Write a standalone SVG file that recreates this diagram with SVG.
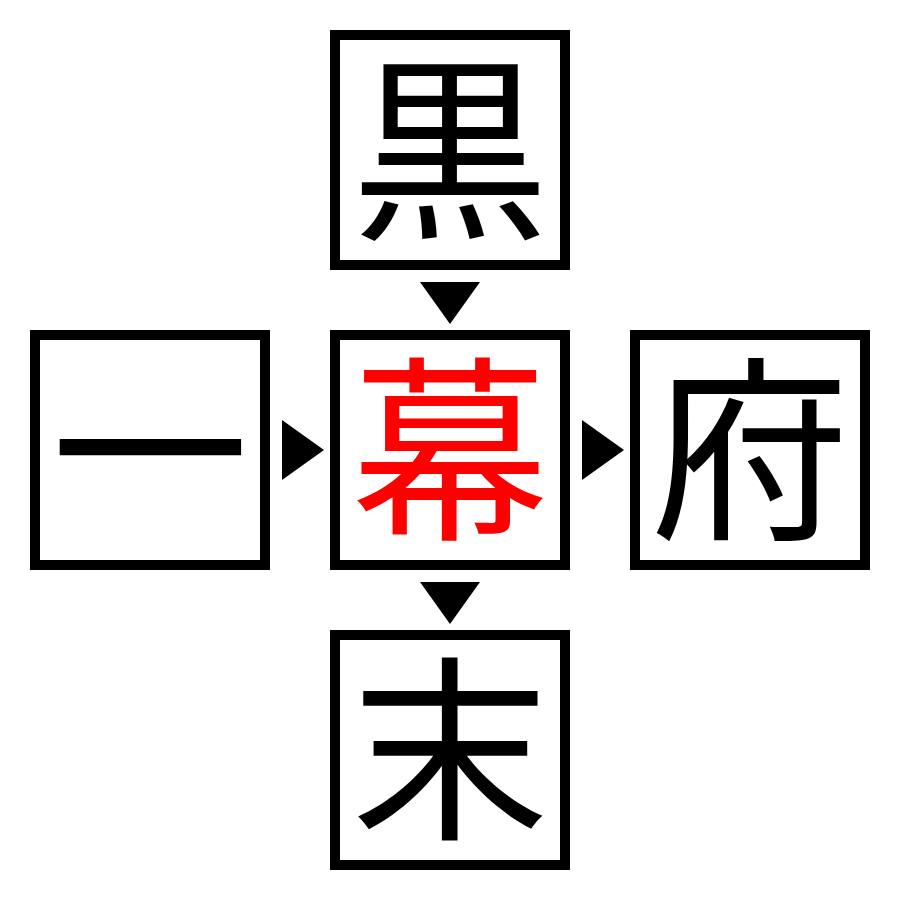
<svg xmlns="http://www.w3.org/2000/svg" width="900" height="900" viewBox="0 0 900 900">
<style>
.box{fill:#fff;stroke:#000;stroke-width:10}
.ch{font-family:"Noto Sans CJK JP","Noto Sans CJK SC",sans-serif;font-size:198px;text-anchor:middle;fill:#000}
.red{fill:#ff0000}
.arr{fill:#000}
</style>
<rect width="900" height="900" fill="#fff"/>
<g id="top"><rect class="box" x="335" y="35" width="230" height="230"/><text class="ch" x="450" y="224">黒</text></g>
<g id="left"><rect class="box" x="35" y="335" width="230" height="230"/><text class="ch" x="150" y="524">一</text></g>
<g id="center"><rect class="box" x="335" y="335" width="230" height="230"/><text class="ch red" x="450" y="524">幕</text></g>
<g id="right"><rect class="box" x="635" y="335" width="230" height="230"/><text class="ch" x="750" y="524">府</text></g>
<g id="bottom"><rect class="box" x="335" y="635" width="230" height="230"/><text class="ch" x="450" y="824">末</text></g>
<g id="connectors">
<polygon class="arr" points="420,282 480,282 450,324"/>
<polygon class="arr" points="282,420 282,480 324,450"/>
<polygon class="arr" points="582,420 582,480 624,450"/>
<polygon class="arr" points="420,582 480,582 450,624"/>
</g>
</svg>
